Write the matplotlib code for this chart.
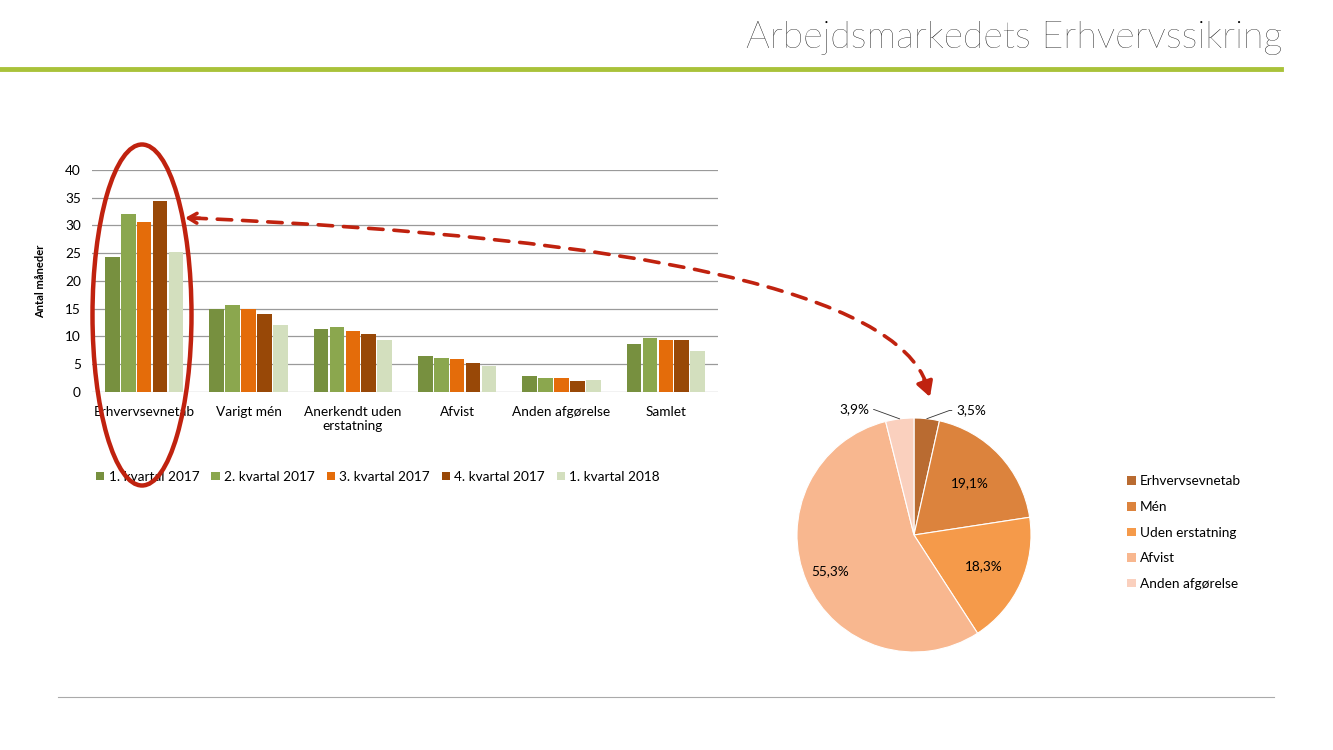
import matplotlib
matplotlib.use("Agg")
import numpy as np
import matplotlib.pyplot as plt
from matplotlib.patches import Ellipse, FancyArrowPatch, Patch
from matplotlib.path import Path

plt.rcParams['font.family'] = ['Lato', 'DejaVu Sans']

# bar chart data
categories = ["Erhvervsevnetab", "Varigt mén", "Anerkendt uden\nerstatning",
              "Afvist", "Anden afgørelse", "Samlet"]
series = ["1. kvartal 2017", "2. kvartal 2017", "3. kvartal 2017",
          "4. kvartal 2017", "1. kvartal 2018"]
q1_2017 = [24.4, 15.0, 11.4, 6.5, 2.8, 8.7]
q2_2017 = [32.0, 15.7, 11.7, 6.2, 2.6, 9.8]
q3_2017 = [30.6, 14.9, 11.0, 6.0, 2.6, 9.4]
q4_2017 = [34.4, 14.0, 10.5, 5.2, 2.0, 9.4]
q1_2018 = [25.2, 12.1, 9.3, 4.6, 2.2, 7.4]
bar_colors = ["#77903F", "#8BA74E", "#E46C0A", "#984807", "#D3DFBE"]

# pie data
pie_labels = ["Erhvervsevnetab", "Mén", "Uden erstatning", "Afvist", "Anden afgørelse"]
pie_values = [3.5, 19.1, 18.3, 55.3, 3.9]
pie_colors = ["#B96B31", "#DC833D", "#F59A4A", "#F8B78F", "#FAD0BE"]

W, H = 1333, 750
fig = plt.figure(figsize=(W / 100, H / 100), dpi=100)


def fx(px):
    return px / W


def fy(py):
    return 1 - py / H


# header
fig.text(fx(1282), fy(38), "Arbejdsmarkedets Erhvervssikring", ha="right", va="center",
         fontsize=27, fontweight="light", color="#000000")
fig.add_artist(plt.Line2D([0, fx(1281)], [fy(69), fy(69)], color="#A9C23A", lw=3.5))
fig.add_artist(plt.Line2D([fx(58), fx(1274)], [fy(697), fy(697)], color="#AAAAAA", lw=0.8))

# bar chart
ax = fig.add_axes([fx(92), fy(392), fx(718) - fx(92), fy(170) - fy(392)])
x = np.arange(len(categories))
all_series = [q1_2017, q2_2017, q3_2017, q4_2017, q1_2018]
step = 0.152
for i, (vals, name, c) in enumerate(zip(all_series, series, bar_colors)):
    ax.bar(x + (i - 2) * step, vals, width=step * 0.92, color=c, label=name, zorder=3)
ax.set_xlim(-0.5, len(categories) - 0.5)
ax.set_ylim(0, 40)
ax.set_yticks(range(0, 41, 5))
ax.set_xticks(x)
ax.set_xticklabels(categories, fontsize=9.5, linespacing=1.2)
ax.tick_params(axis="both", length=0, labelsize=9.8, pad=8)
ax.tick_params(axis="x", pad=10)
ax.grid(axis="y", color="#9A9A9A", lw=0.9, zorder=0)
for s in ax.spines.values():
    s.set_visible(False)
ax.set_ylabel("Antal måneder", fontsize=8, fontweight="bold", labelpad=14)
ax.legend(loc="upper center", bbox_to_anchor=(0.457, -0.3), ncol=5, frameon=False,
          fontsize=9.8, handlelength=0.6, handleheight=0.6, handletextpad=0.3,
          columnspacing=0.9)

# pie chart
cx, cy, r = 914, 535, 117
pax = fig.add_axes([fx(cx - r), fy(cy + r), fx(2 * r), fy(cy - r) - fy(cy + r)])
wedges, _ = pax.pie(pie_values, colors=pie_colors, startangle=90, counterclock=False,
                    wedgeprops=dict(linewidth=0.8, edgecolor="white"))
pax.set_xlim(-1, 1)
pax.set_ylim(-1, 1)
pax.set_aspect("equal")
label_dist = [None, 0.65, 0.65, 0.78, None]
outside = {0: (0.25, 0.07), 4: (-0.26, 0.08)}
for i, w in enumerate(wedges):
    ang = np.deg2rad((w.theta1 + w.theta2) / 2)
    txt = f"{pie_values[i]:.1f}%".replace(".", ",")
    if label_dist[i] is not None:
        d = label_dist[i]
        pax.text(d * np.cos(ang), d * np.sin(ang), txt, ha="center", va="center", fontsize=9.8)
    else:
        ex, ey = np.cos(ang), np.sin(ang)
        ox, oy = outside[i]
        pax.annotate(txt, xy=(ex, ey), xytext=(ex + ox, ey + oy), fontsize=9.8,
                     ha="left" if ox > 0 else "right", va="center",
                     arrowprops=dict(arrowstyle="-", lw=0.6, color="#333333",
                                     shrinkA=1, shrinkB=0,
                                     connectionstyle="angle,angleA=0,angleB=%d" % (
                                         20 if ox > 0 else 160)),
                     annotation_clip=False)

handles = [Patch(facecolor=c, label=l) for c, l in zip(pie_colors, pie_labels)]
fig.legend(handles=handles, loc="upper left", bbox_to_anchor=(fx(1122), fy(470)),
           frameon=False, fontsize=9.8, handlelength=0.6, handleheight=0.6,
           handletextpad=0.3, labelspacing=1.0, borderaxespad=0)

# red ellipse and dashed arrow
red = "#C0220F"
fig.add_artist(Ellipse((fx(142), fy(315)), fx(99), fy(145) - fy(486), fill=False,
                       edgecolor=red, lw=3.2, transform=fig.transFigure))
p0 = (fx(192), fy(218))
p1 = (fx(880), fy(248))
p2 = (fx(927), fy(385))
curve = Path([p0, p1, p2], [Path.MOVETO, Path.CURVE3, Path.CURVE3])
fig.add_artist(FancyArrowPatch(path=curve, arrowstyle="-", color=red, lw=2.6,
                               linestyle=(0, (4, 3)), transform=fig.transFigure))
fig.add_artist(FancyArrowPatch((fx(200), fy(218.3)), (fx(185), fy(218)),
                               arrowstyle="->,head_length=6,head_width=3.5", color=red,
                               lw=2.6, transform=fig.transFigure, shrinkA=0, shrinkB=0))
fig.add_artist(FancyArrowPatch((fx(924), fy(380)), (fx(930), fy(397)),
                               arrowstyle="-|>,head_length=9,head_width=5", color=red,
                               lw=2.6, transform=fig.transFigure, shrinkA=0, shrinkB=0))

fig.savefig("out.png", dpi=100)
